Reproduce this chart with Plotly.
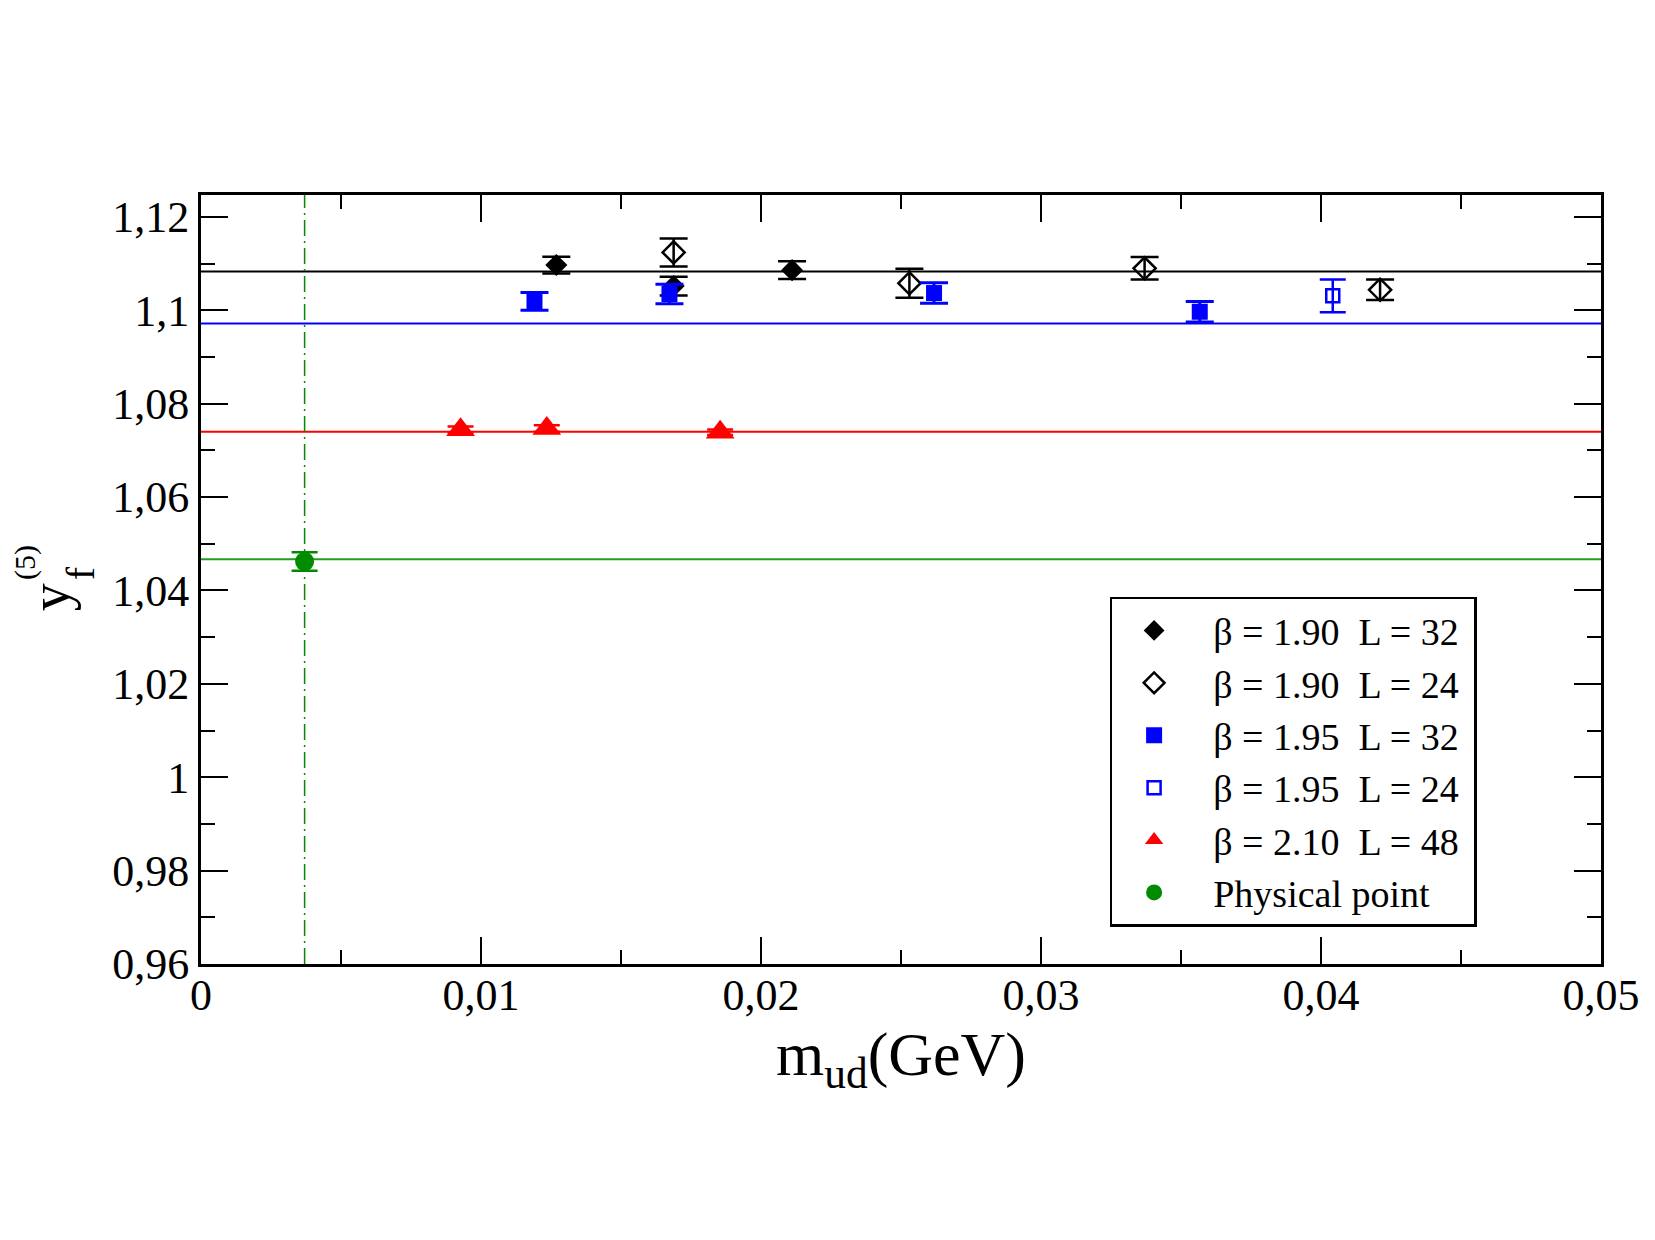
import plotly.graph_objects as go

# ---------------- data ----------------
# beta = 1.90, L = 32 (filled black diamonds)
b190_L32_x = [0.01269, 0.01688, 0.02111]
b190_L32_y = [1.1097, 1.1052, 1.1086]
b190_L32_e = [0.0018, 0.0020, 0.0019]

# beta = 1.90, L = 24 (open black diamonds)
b190_L24_x = [0.01688, 0.02530, 0.03370, 0.04211]
b190_L24_y = [1.1124, 1.1058, 1.1090, 1.1044]
b190_L24_e = [0.0030, 0.0031, 0.0024, 0.0022]

# beta = 1.95, L = 32 (filled blue squares)
b195_L32_x = [0.01191, 0.01673, 0.02618, 0.03567]
b195_L32_y = [1.1019, 1.1035, 1.1037, 1.0997]
b195_L32_e = [0.0019, 0.0021, 0.0022, 0.0022]

# beta = 1.95, L = 24 (open blue square)
b195_L24_x = [0.04042]
b195_L24_y = [1.1031]
b195_L24_e = [0.0035]

# beta = 2.10, L = 48 (red triangles)
b210_L48_x = [0.00927, 0.01235, 0.01854]
b210_L48_y = [1.0744, 1.0747, 1.0739]
b210_L48_e = [0.0007, 0.0007, 0.0006]

# physical point (green circle)
phys_x = [0.0037]
phys_y = [1.0462]
phys_e = [0.0020]

# horizontal fit levels
fit_black = 1.1083
fit_blue = 1.0972
fit_red = 1.0740
fit_green = 1.0467

x_range = [0.0, 0.05]
y_range = [0.96, 1.1247]

x_tickvals = [0.0, 0.01, 0.02, 0.03, 0.04, 0.05]
x_ticktext = ["0", "0,01", "0,02", "0,03", "0,04", "0,05"]
y_tickvals = [0.96, 0.98, 1.00, 1.02, 1.04, 1.06, 1.08, 1.10, 1.12]
y_ticktext = ["0,96", "0,98", "1", "1,02", "1,04", "1,06", "1,08", "1,1", "1,12"]

legend_names = [
    "β = 1.90\u00a0\u00a0L = 32",
    "β = 1.90\u00a0\u00a0L = 24",
    "β = 1.95\u00a0\u00a0L = 32",
    "β = 1.95\u00a0\u00a0L = 24",
    "β = 2.10\u00a0\u00a0L = 48",
    "Physical point",
]
LEAD = "\u00a0\u2009"
TRAIL = "\u00a0"

BLACK = "#000000"
BLUE = "#0000ff"
RED = "#ff0000"
GREEN = "#008b00"
FONT = "Liberation Serif"

fig = go.Figure()

# fit lines
for lvl, col in [(fit_black, BLACK), (fit_blue, BLUE), (fit_red, RED), (fit_green, "#1f9e1f")]:
    fig.add_trace(go.Scatter(x=x_range, y=[lvl, lvl], mode="lines",
                             line=dict(color=col, width=2), showlegend=False,
                             hoverinfo="skip"))

# vertical dash-dot line at physical point
fig.add_trace(go.Scatter(x=[phys_x[0], phys_x[0]], y=y_range, mode="lines",
                         line=dict(color=GREEN, width=1.5, dash="16px,5px,2px,5px"),
                         showlegend=False, hoverinfo="skip"))


def err(arr, col, w, th=2.5):
    return dict(type="data", array=arr, visible=True, color=col, width=w, thickness=th)


def nm(i):
    return LEAD + legend_names[i] + TRAIL


fig.add_trace(go.Scatter(
    x=b190_L32_x, y=b190_L32_y, mode="markers", name=nm(0),
    marker=dict(symbol="diamond", size=17, color=BLACK),
    error_y=err(b190_L32_e, BLACK, 14)))
fig.add_trace(go.Scatter(
    x=b190_L24_x, y=b190_L24_y, mode="markers", name=nm(1),
    marker=dict(symbol="diamond-open", size=17, color=BLACK, line=dict(width=2.5, color=BLACK)),
    error_y=err(b190_L24_e, BLACK, 14)))
fig.add_trace(go.Scatter(
    x=b195_L32_x, y=b195_L32_y, mode="markers", name=nm(2),
    marker=dict(symbol="square", size=16, color=BLUE),
    error_y=err(b195_L32_e, BLUE, 14, 3)))
fig.add_trace(go.Scatter(
    x=b195_L24_x, y=b195_L24_y, mode="markers", name=nm(3),
    marker=dict(symbol="square-open", size=13, color=BLUE, line=dict(width=2.5, color=BLUE)),
    error_y=err(b195_L24_e, BLUE, 13)))
fig.add_trace(go.Scatter(
    x=b210_L48_x, y=b210_L48_y, mode="markers", name=nm(4),
    marker=dict(symbol="triangle-up", size=25, color=RED),
    error_y=err(b210_L48_e, RED, 13)))
fig.add_trace(go.Scatter(
    x=phys_x, y=phys_y, mode="markers", name=nm(5),
    marker=dict(symbol="circle", size=19, color=GREEN),
    error_y=err(phys_e, GREEN, 13)))

axis_common = dict(
    showline=True, linecolor=BLACK, linewidth=3, mirror="ticks",
    ticks="inside", ticklen=27, tickwidth=1.5, tickcolor=BLACK,
    showgrid=False, zeroline=False,
    tickfont=dict(family=FONT, size=44, color=BLACK),
)

fig.update_xaxes(
    range=x_range, tickmode="array", tickvals=x_tickvals, ticktext=x_ticktext,
    minor=dict(ticks="inside", ticklen=14, tickwidth=1.5, tickcolor=BLACK, dtick=0.005, showgrid=False),
    title=dict(text="m<sub>ud</sub>(GeV)", font=dict(family=FONT, size=62, color=BLACK), standoff=8),
    ticklabelstandoff=-10,
    **axis_common)
fig.update_yaxes(
    range=y_range, tickmode="array", tickvals=y_tickvals, ticktext=y_ticktext,
    minor=dict(ticks="inside", ticklen=14, tickwidth=1.5, tickcolor=BLACK, dtick=0.01, tick0=0.96, showgrid=False),
    ticklabelstandoff=0,
    **axis_common)

# y-axis title: y with stacked f subscript and (5) superscript
ann_common = dict(xref="paper", yref="paper", xanchor="center", yanchor="middle",
                  textangle=-90, showarrow=False)
fig.add_annotation(text="y", x=-0.1081, y=0.4764,
                   font=dict(family=FONT, size=56, color=BLACK), **ann_common)
fig.add_annotation(text="f", x=-0.0860, y=0.5075,
                   font=dict(family=FONT, size=40, color=BLACK), **ann_common)
fig.add_annotation(text="(5)", x=-0.1256, y=0.5218,
                   font=dict(family=FONT, size=30, color=BLACK), **ann_common)

fig.update_layout(
    width=1655, height=1240,
    margin=dict(l=201, r=54, t=195, b=276, autoexpand=False),
    paper_bgcolor="white", plot_bgcolor="white",
    separators=", ",
    font=dict(family=FONT, color=BLACK),
    legend=dict(
        x=0.649, y=0.4776, xanchor="left", yanchor="top",
        bgcolor="white", bordercolor=BLACK, borderwidth=2.5,
        font=dict(family=FONT, size=38, color=BLACK),
        itemwidth=74, tracegroupgap=0,
    ),
)

fig.write_html("out.html")
